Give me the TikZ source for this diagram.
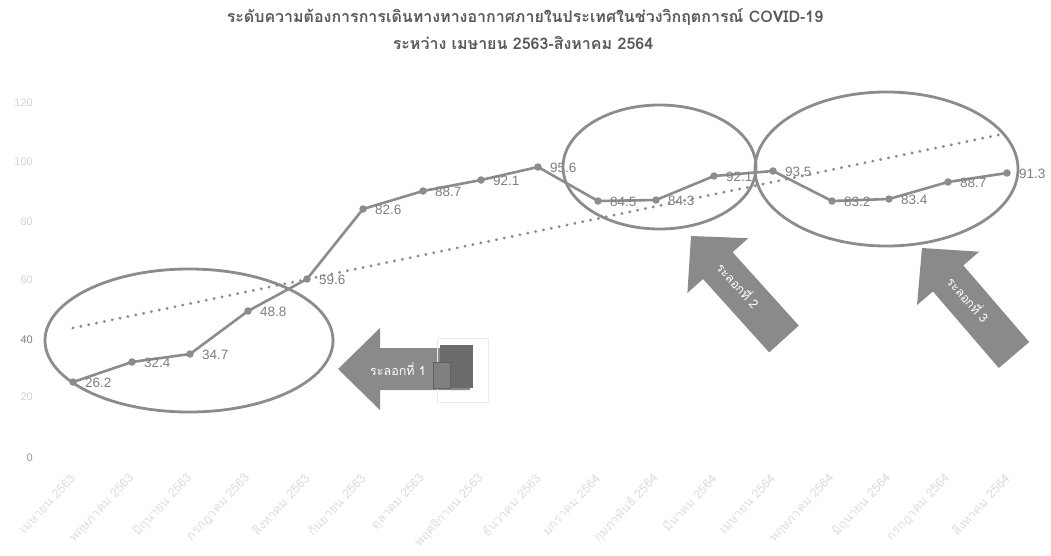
\documentclass[tikz,border=0pt]{standalone}
\usepackage{fontspec}
\setmainfont{Liberation Sans}
\newfontfamily\thai[Script=Thai]{Loma}
\usetikzlibrary{shapes.geometric}
\definecolor{lineg}{HTML}{8C8C8C}
\definecolor{labg}{HTML}{7F7F7F}
\definecolor{titleg}{HTML}{595959}
\definecolor{faint}{HTML}{D4D4D4}
\definecolor{xfaint}{HTML}{DEDEDE}
\definecolor{arrg}{HTML}{8A8A8A}
\begin{document}
\begin{tikzpicture}[x=1pt,y=-1pt,
  gline/.style={draw=lineg, line width=2.6pt, line join=round},
  mk/.style={circle, fill=lineg, inner sep=0pt, minimum size=7.5pt},
  dlab/.style={anchor=west, text=labg, inner sep=0pt, font=\fontsize{13.5}{13.5}\selectfont},
  ell/.style={ellipse, draw=lineg, line width=2.8pt, inner sep=0pt},
  trend/.style={draw=lineg, line width=3.2pt, dash pattern=on 0.01pt off 8pt, line cap=round},
  ylab/.style={anchor=east, inner sep=0pt, font=\fontsize{11}{11}\selectfont},
  xlab/.style={anchor=east, rotate=47, inner sep=0pt, text=xfaint, font=\thai\fontsize{12.5}{12.5}\selectfont},
  blockarrow/.style={fill=arrg, draw=none},
  arrtext/.style={text=white, inner sep=0pt, font=\thai\fontsize{12.5}{12.5}\selectfont},
  titletext/.style={text=titleg, inner sep=0pt, font=\thai\bfseries\fontsize{16}{16}\selectfont}
]
\useasboundingbox[fill=white] (0,0) rectangle (1051,555);

% title
\node[titletext] (title1) at (525,17)
  {ระดับความต้องการการเดินทางทางอากาศภายในประเทศในช่วงวิกฤตการณ์ COVID-19};
\node[titletext] (title2) at (523,43)
  {ระหว่าง เมษายน 2563-สิงหาคม 2564};

% y axis labels
\node[ylab, text=faint] (y120) at (33,103) {120};
\node[ylab, text=faint] (y100) at (33,162) {100};
\node[ylab, text=faint] (y80) at (33,222) {80};
\node[ylab, text=faint] (y60) at (33,280) {60};
\node[ylab, text=labg] (y40) at (33,340) {40};
\node[ylab, text=faint] (y20) at (33,397) {20};
\node[ylab, text=labg!80] (y0) at (33,458) {0};

% data points
\coordinate (p1) at (73,382);
\coordinate (p2) at (132,362);
\coordinate (p3) at (190,354);
\coordinate (p4) at (248,311);
\coordinate (p5) at (307,279);
\coordinate (p6) at (363,209);
\coordinate (p7) at (423,191);
\coordinate (p8) at (481,180);
\coordinate (p9) at (538,167);
\coordinate (p10) at (598,201);
\coordinate (p11) at (656,200);
\coordinate (p12) at (714,176);
\coordinate (p13) at (773,171);
\coordinate (p14) at (832,201);
\coordinate (p15) at (889,199);
\coordinate (p16) at (948,182);
\coordinate (p17) at (1007,173);

% x labels
\foreach \i/\m in {1/เมษายน 2563,2/พฤษภาคม 2563,3/มิถุนายน 2563,4/กรกฎาคม 2563,5/สิงหาคม 2563,6/กันยายน 2563,7/ตุลาคม 2563,8/พฤศจิกายน 2563,9/ธันวาคม 2563,10/มกราคม 2564,11/กุมภาพันธ์ 2564,12/มีนาคม 2564,13/เมษายน 2564,14/พฤษภาคม 2564,15/มิถุนายน 2564,16/กรกฎาคม 2564,17/สิงหาคม 2564}{
  \node[xlab] (x\i) at ([yshift=-476pt]p\i |- 0,0) {\m};
}

% trend line
\coordinate (t1) at (73,328);
\coordinate (t2) at (1003,134);
\draw[trend] (t1) -- (t2);

% data line
\draw[gline] (p1) -- (p2) -- (p3) -- (p4) -- (p5) -- (p6) -- (p7) -- (p8) -- (p9)
  -- (p10) -- (p11) -- (p12) -- (p13) -- (p14) -- (p15) -- (p16) -- (p17);
\foreach \i in {1,...,17}{ \node[mk] (m\i) at (p\i) {}; }

% data labels
\foreach \i/\v in {1/26.2,2/32.4,3/34.7,4/48.8,5/59.6,6/82.6,7/88.7,8/92.1,9/95.6,10/84.5,11/84.3,12/92.1,13/93.5,14/83.2,15/83.4,16/88.7,17/91.3}{
  \node[dlab] (l\i) at ([xshift=12pt,yshift=-1pt]p\i) {\v};
}

% ellipses
\node[ell, minimum width=288pt, minimum height=143pt] (e1) at (189,340.5) {};
\node[ell, minimum width=193pt, minimum height=124pt] (e2) at (659.5,167) {};
\node[ell, minimum width=263pt, minimum height=154pt] (e3) at (886.5,169) {};

% arrow 1 (pointing left)
\fill[blockarrow] (338,369) -- (380,328) -- (380,348) -- (470,348) -- (470,390)
  -- (380,390) -- (380,410) -- cycle;
\node[arrtext, anchor=west] (a1) at (370,369) {ระลอกที่ 1};
\draw[draw=black!8, line width=0.8pt] (437,338) rectangle (488,402);
\fill[fill=black!58] (440,345) rectangle (473,388);
\draw[fill=black!50, draw=black!62, line width=0.8pt] (433,362) rectangle (450,388);

% arrow 2 (pointing up-left)
\fill[blockarrow] (691,236) -- (748.2,238.2) -- (732.6,252.2) -- (798.8,325.6)
  -- (769.2,352.4) -- (703,279) -- (687.4,293) -- cycle;
\node[arrtext, rotate=-48] (a2) at (739,285) {ระลอกที่ 2};

% arrow 3 (pointing up-left)
\fill[blockarrow] (922,248) -- (979.2,251.7) -- (963.3,265.4) -- (1029.2,342)
  -- (998.8,368) -- (932.9,291.4) -- (917,305.1) -- cycle;
\node[arrtext, rotate=-49] (a3) at (969,299) {ระลอกที่ 3};
\end{tikzpicture}
\end{document}
